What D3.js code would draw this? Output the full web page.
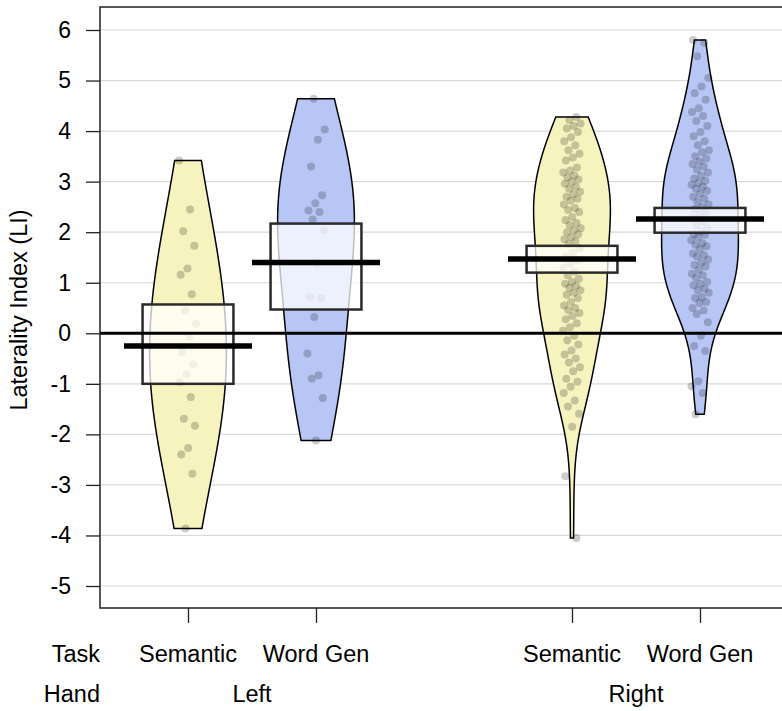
<!DOCTYPE html>
<html><head><meta charset="utf-8">
<script src="https://cdn.jsdelivr.net/npm/d3@7"></script>
<style>
body{margin:0;background:#fff}
svg{display:block;background:#fff}
text{font-family:"Liberation Sans",Arial,Helvetica,sans-serif;fill:#000}
</style>
</head><body>
<svg id="chart" width="782" height="711"></svg>
<script>
// ---------- data ----------
const tasks = ["Semantic", "Word Gen", "Semantic", "Word Gen"];
const hands = ["Left", "Right"];
const handPositions = [1.5, 4.5];
const positions = [1, 2, 4, 5];
const beanColors = ["#F7F3BF", "#B8C6F5", "#F7F3BF", "#B8C6F5"];
const yTicks = [-5, -4, -3, -2, -1, 0, 1, 2, 3, 4, 5, 6];

const leftSemantic = [3.42, 2.45, 2.02, 1.73, 1.28, 1.16, 0.77, 0.45, 0.19, -0.07,
  -0.37, -0.62, -0.81, -0.96, -1.26, -1.69, -1.83, -2.27, -2.40, -2.78, -3.86];
const leftWordGen = [4.64, 4.03, 3.83, 3.30, 2.73, 2.57, 2.43, 2.40, 2.25, 2.04,
  1.38, 0.72, 0.69, 0.32, -0.40, -0.83, -0.90, -1.28, -2.12];
const rightSemantic = [4.28, 4.22, 4.15, 4.10, 4.05, 3.98, 3.88, 3.80, 3.72, 3.62,
  3.55, 3.48, 3.42, 3.28, 3.22, 3.18, 3.12, 3.08, 3.04, 3.00,
  2.96, 2.90, 2.86, 2.80, 2.75, 2.70, 2.66, 2.62, 2.55, 2.48,
  2.44, 2.40, 2.30, 2.24, 2.18, 2.14, 2.08, 2.04, 2.00, 1.96,
  1.90, 1.86, 1.82, 1.76, 1.68, 1.60, 1.52, 1.45, 1.38, 1.30,
  1.22, 1.15, 1.08, 1.02, 0.98, 0.94, 0.90, 0.85, 0.80, 0.76,
  0.70, 0.62, 0.55, 0.50, 0.46, 0.40, 0.34, 0.28, 0.20, 0.12,
  0.05, -0.05, -0.14, -0.22, -0.34, -0.42, -0.50, -0.58, -0.67, -0.75,
  -0.90, -0.96, -1.06, -1.18, -1.33, -1.45, -1.59, -1.85, -2.83, -4.05];
const rightWordGen = [5.80, 5.75, 5.48, 5.05, 4.88, 4.75, 4.62, 4.45, 4.38, 4.30,
  4.20, 4.10, 3.98, 3.90, 3.80, 3.72, 3.62, 3.58, 3.50, 3.46,
  3.40, 3.35, 3.30, 3.24, 3.18, 3.12, 3.06, 3.02, 2.98, 2.94,
  2.90, 2.86, 2.82, 2.76, 2.70, 2.66, 2.60, 2.55, 2.50, 2.46,
  2.40, 2.34, 2.28, 2.20, 2.14, 2.08, 2.02, 1.96, 1.95, 1.90,
  1.84, 1.78, 1.75, 1.72, 1.66, 1.58, 1.55, 1.52, 1.46, 1.40,
  1.35, 1.32, 1.25, 1.18, 1.15, 1.10, 1.02, 0.98, 0.95, 0.88,
  0.85, 0.80, 0.72, 0.70, 0.62, 0.60, 0.50, 0.45, 0.38, 0.22,
  -0.05, -0.25, -0.35, -0.95, -1.05, -1.18, -1.60];

const means = [-0.25, 1.40, 1.47, 2.26];
const hdiLow = [-1.00, 0.47, 1.20, 1.99];
const hdiHigh = [0.57, 2.17, 1.73, 2.48];
const bwAdjust = [1.7, 1.35, 1, 1];

const groups = [leftSemantic, leftWordGen, rightSemantic, rightWordGen];

// ---------- layout ----------
const W = 782, H = 711;
const plotLeft = 100, plotTop = 7, plotBottom = 608;
const svg = d3.select("#chart");

const x = d3.scaleLinear().domain([0.3125, 5.640625]).range([plotLeft, W]);
const y = d3.scaleLinear().domain([-5.435, 6.455]).range([plotBottom, plotTop]);

const beanMax = 0.30;   // max half width of a bean (x units)
const boxHalf = 0.355;  // inference band half width
const meanHalf = 0.5;   // average line half width
const jitterAmt = 0.07;

// gridlines
svg.append("g").selectAll("line").data(yTicks).join("line")
  .attr("x1", plotLeft).attr("x2", W)
  .attr("y1", d => y(d)).attr("y2", d => y(d))
  .attr("stroke", "#d9d9d9").attr("stroke-width", 1.2);

// kernel density (gaussian, Silverman's rule of thumb) trimmed to data range
function kde(values, adjust) {
  const v = values.slice().sort(d3.ascending);
  const n = v.length;
  const sd = d3.deviation(v);
  const iqr = d3.quantileSorted(v, 0.75) - d3.quantileSorted(v, 0.25);
  const bw = adjust * 0.9 * Math.min(sd, iqr / 1.34) * Math.pow(n, -0.2);
  const lo = v[0], hi = v[n - 1];
  const pts = d3.range(0, 201).map(i => lo + (hi - lo) * i / 200);
  const dens = pts.map(p => d3.sum(v, d => Math.exp(-0.5 * ((p - d) / bw) ** 2)));
  const mx = d3.max(dens);
  return pts.map((p, i) => ({ v: p, w: dens[i] / mx * beanMax }));
}

const beans = svg.append("g");
groups.forEach((vals, gi) => {
  const pos = positions[gi];
  const dens = kde(vals, bwAdjust[gi]);
  const area = d3.area()
    .y(d => y(d.v))
    .x0(d => x(pos - d.w))
    .x1(d => x(pos + d.w));
  beans.append("path").datum(dens)
    .attr("d", area)
    .attr("fill", beanColors[gi])
    .attr("stroke", "#000").attr("stroke-width", 1.5);
});

// points
const ptsG = svg.append("g");
groups.forEach((vals, gi) => {
  const pos = positions[gi];
  ptsG.append("g").selectAll("circle").data(vals).join("circle")
    .attr("cx", (d, i) => x(pos + (((i * 0.61803398875 + 0.37 * gi) % 1) - 0.5) * 2 * jitterAmt))
    .attr("cy", d => y(d))
    .attr("r", 4)
    .attr("fill", "#000").attr("fill-opacity", 0.2);
});

// inference bands
svg.append("g").selectAll("rect").data(positions).join("rect")
  .attr("x", d => x(d - boxHalf))
  .attr("width", d => x(d + boxHalf) - x(d - boxHalf))
  .attr("y", (d, i) => y(hdiHigh[i]))
  .attr("height", (d, i) => y(hdiLow[i]) - y(hdiHigh[i]))
  .attr("fill", "#fff").attr("fill-opacity", 0.75)
  .attr("stroke", "#2b2b2b").attr("stroke-width", 2.5);

// zero reference line
svg.append("line")
  .attr("x1", plotLeft).attr("x2", W)
  .attr("y1", y(0)).attr("y2", y(0))
  .attr("stroke", "#000").attr("stroke-width", 3);

// average lines
svg.append("g").selectAll("line").data(positions).join("line")
  .attr("x1", d => x(d - meanHalf)).attr("x2", d => x(d + meanHalf))
  .attr("y1", (d, i) => y(means[i])).attr("y2", (d, i) => y(means[i]))
  .attr("stroke", "#000").attr("stroke-width", 5.5);

// plot frame (right edge lies beyond the visible canvas)
svg.append("path")
  .attr("d", `M${W + 5},${plotTop}H${plotLeft}V${plotBottom}H${W + 5}`)
  .attr("fill", "none").attr("stroke", "#222").attr("stroke-width", 1.5);

// y axis
const yAxis = svg.append("g").attr("transform", `translate(${plotLeft},0)`)
  .call(d3.axisLeft(y).tickValues(yTicks).tickSize(14).tickPadding(15).tickFormat(d => String(d)));
yAxis.select(".domain").remove();
yAxis.selectAll(".tick line").attr("stroke", "#222").attr("stroke-width", 1.3);
yAxis.selectAll(".tick text").attr("font-size", 23)
  .style("font-family", '"Liberation Sans",Arial,sans-serif').attr("fill", "#000");

// x axis ticks
const xAxis = svg.append("g").attr("transform", `translate(0,${plotBottom})`)
  .call(d3.axisBottom(x).tickValues(positions).tickSize(15).tickFormat(""));
xAxis.select(".domain").remove();
xAxis.selectAll(".tick line").attr("stroke", "#222").attr("stroke-width", 1.3);

// task labels
svg.append("g").selectAll("text").data(positions).join("text")
  .attr("x", d => x(d)).attr("y", 662)
  .attr("text-anchor", "middle").attr("font-size", 23.5)
  .text((d, i) => tasks[i]);
svg.append("text").attr("x", 100).attr("y", 662)
  .attr("text-anchor", "end").attr("font-size", 23.5).text("Task");

// hand labels
svg.append("g").selectAll("text").data(handPositions).join("text")
  .attr("x", d => x(d)).attr("y", 702)
  .attr("text-anchor", "middle").attr("font-size", 23.5)
  .text((d, i) => hands[i]);
svg.append("text").attr("x", 100).attr("y", 702)
  .attr("text-anchor", "end").attr("font-size", 23.5).text("Hand");

// y title
svg.append("text")
  .attr("transform", "translate(27,310) rotate(-90)")
  .attr("text-anchor", "middle").attr("font-size", 23.5)
  .text("Laterality Index (LI)");
</script>
</body></html>
